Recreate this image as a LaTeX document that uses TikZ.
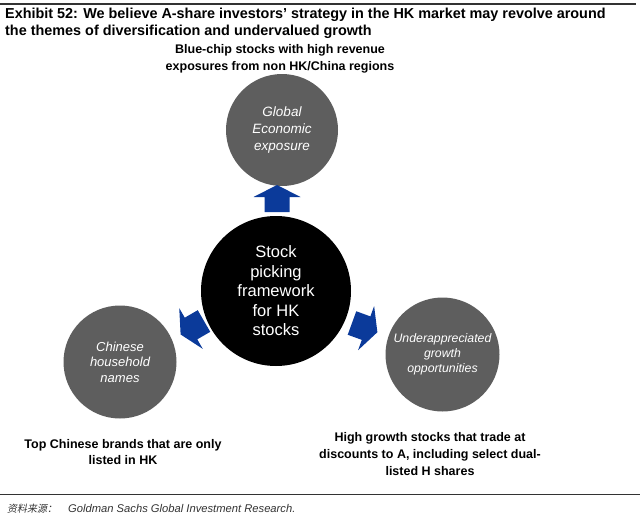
\documentclass[tikz,border=0pt]{standalone}
\usepackage{fontspec}
\setmainfont{Liberation Sans}
\newfontfamily\cjk{Noto Sans CJK SC}[FakeSlant=0.2]
\definecolor{arrowblue}{HTML}{0B3A9A}
\definecolor{circgray}{HTML}{5E5E5E}
\definecolor{rulegray}{HTML}{333333}
\tikzset{
  blockarrow/.pic={\fill[arrowblue] (0,-12.5) -- (15,-12.5) -- (15,-23.5) -- (27,0) -- (15,23.5) -- (15,12.5) -- (0,12.5) -- cycle;},
}
\begin{document}
\begin{tikzpicture}[x=1pt,y=-1pt,
  titletext/.style={font=\bfseries\fontsize{14.4}{17}\selectfont, align=left, anchor=north west, inner sep=0},
  lbl/.style={font=\bfseries\fontsize{12.5}{16.8}\selectfont, align=center, inner sep=0},
  gcirc/.style={circle, fill=circgray, minimum size=112, inner sep=0, text=white, align=center},
  ccirc/.style={circle, fill=black, minimum size=150, inner sep=0, text=white, align=center,
     font=\fontsize{16.5}{19.5}\selectfont},
  rulestyle/.style={draw=rulegray, line width=1.5pt}
]
\useasboundingbox (0,0) rectangle (640,517);
\coordinate (tl) at (0,4);
\coordinate (tr) at (636,4);
\draw[rulestyle] (tl) -- (tr);
\node[titletext] (title) at (5,7.5) {Exhibit 52: We believe A-share investors’ strategy in the HK market may revolve around\\the themes of diversification and undervalued growth};

\node[lbl] (ltop) at (280,59) {Blue-chip stocks with high revenue\\exposures from non HK/China regions};

\node[gcirc, font=\itshape\fontsize{13.5}{17}\selectfont] (global) at (282,130) {Global\\Economic\\exposure};
\node[ccirc] (center) at (276,291) {Stock\\picking\\framework\\for HK\\stocks};
\node[gcirc, minimum size=113, font=\itshape\fontsize{13}{15.5}\selectfont] (chinese) at (120,362) {Chinese\\household\\names};
\node[gcirc, minimum size=114, font=\itshape\fontsize{12.3}{14.7}\selectfont] (under) at (442.5,354.5) {Underappreciated\\growth\\opportunities};

\pic[rotate=90] at (277,212) {blockarrow};
\pic[rotate=210] at (204,321) {blockarrow};
\pic[rotate=-20] at (352,323) {blockarrow};

\node[lbl] (lleft) at (123,452) {Top Chinese brands that are only\\listed in HK};
\node[lbl] (lright) at (430,454) {High growth stocks that trade at\\discounts to A, including select dual-\\listed H shares};

\coordinate (bl) at (0,494);
\coordinate (br) at (640,494);
\draw[rulestyle, line width=1pt] (bl) -- (br);
\node[anchor=base west, inner sep=0, text=rulegray] (source) at (7,512) {{\cjk\fontsize{10}{12}\selectfont 资料来源：}\hspace{11pt}{\itshape\fontsize{11.2}{13}\selectfont Goldman Sachs Global Investment Research.}};
\end{tikzpicture}
\end{document}
